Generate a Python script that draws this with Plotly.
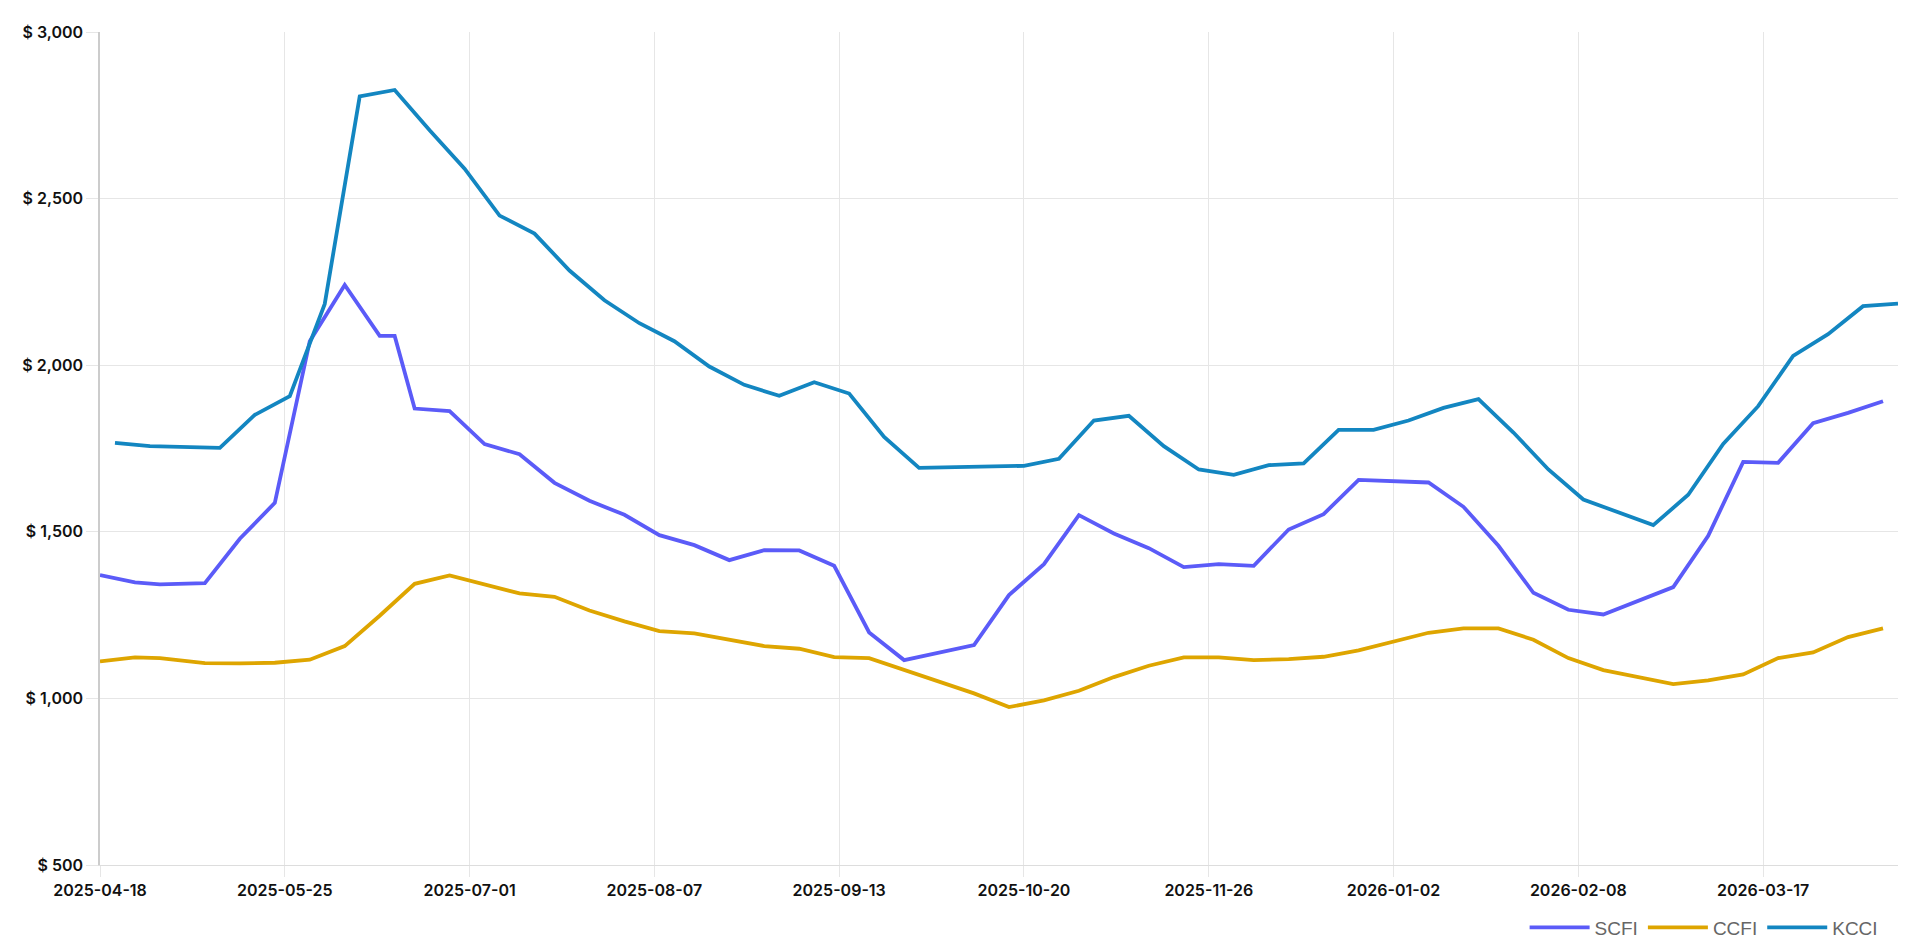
import plotly.graph_objects as go

# ---- data ----
scfi_dates = ["2025-04-18","2025-04-25","2025-04-30","2025-05-09","2025-05-16","2025-05-23","2025-05-30",
              "2025-06-06","2025-06-13","2025-06-16","2025-06-20","2025-06-27","2025-07-04","2025-07-11",
              "2025-07-18","2025-07-25","2025-08-01","2025-08-08","2025-08-15","2025-08-22","2025-08-29",
              "2025-09-05","2025-09-12","2025-09-19","2025-09-26","2025-10-10","2025-10-17","2025-10-24",
              "2025-10-31","2025-11-07","2025-11-14","2025-11-21","2025-11-28","2025-12-05","2025-12-12",
              "2025-12-19","2025-12-26","2026-01-09","2026-01-16","2026-01-23","2026-01-30","2026-02-06",
              "2026-02-13","2026-02-27","2026-03-06","2026-03-13","2026-03-20","2026-03-27","2026-04-03",
              "2026-04-10"]
scfi_values = [1370,1348,1342,1346,1479,1587,2072,
               2241,2088,2088,1870,1862,1763,1733,
               1647,1593,1551,1490,1460,1415,1445,
               1444,1398,1198,1115,1160,1310,1403,
               1550,1495,1451,1394,1403,1398,1507,
               1553,1656,1648,1575,1458,1317,1266,
               1252,1334,1488,1710,1707,1826,1857,
               1892]

ccfi_dates = ["2025-04-18","2025-04-25","2025-04-30","2025-05-09","2025-05-16","2025-05-23","2025-05-30",
              "2025-06-06","2025-06-13","2025-06-20","2025-06-27","2025-07-04","2025-07-11","2025-07-18",
              "2025-07-25","2025-08-01","2025-08-08","2025-08-15","2025-08-22","2025-08-29","2025-09-05",
              "2025-09-12","2025-09-19","2025-09-26","2025-10-10","2025-10-17","2025-10-24","2025-10-31",
              "2025-11-07","2025-11-14","2025-11-21","2025-11-28","2025-12-05","2025-12-12","2025-12-19",
              "2025-12-26","2026-01-02","2026-01-09","2026-01-16","2026-01-23","2026-01-30","2026-02-06",
              "2026-02-13","2026-02-27","2026-03-06","2026-03-13","2026-03-20","2026-03-27","2026-04-03",
              "2026-04-10"]
ccfi_values = [1111,1123,1121,1106,1105,1107,1116,
               1157,1248,1344,1369,1343,1315,1305,
               1264,1231,1202,1195,1175,1157,1149,
               1124,1121,1085,1015,974,994,1023,
               1064,1098,1123,1123,1115,1118,1125,
               1144,1171,1197,1210,1210,1176,1121,
               1085,1043,1054,1072,1121,1138,1184,
               1210]

kcci_dates = ["2025-04-21","2025-04-28","2025-05-12","2025-05-19","2025-05-26","2025-06-02","2025-06-09",
              "2025-06-16","2025-06-23","2025-06-30","2025-07-07","2025-07-14","2025-07-21","2025-07-28",
              "2025-08-04","2025-08-11","2025-08-18","2025-08-25","2025-09-01","2025-09-08","2025-09-15",
              "2025-09-22","2025-09-29","2025-10-20","2025-10-27","2025-11-03","2025-11-10","2025-11-17",
              "2025-11-24","2025-12-01","2025-12-08","2025-12-15","2025-12-22","2025-12-29","2026-01-05",
              "2026-01-12","2026-01-19","2026-01-26","2026-02-02","2026-02-09","2026-02-23","2026-03-02",
              "2026-03-09","2026-03-16","2026-03-23","2026-03-30","2026-04-06","2026-04-13"]
kcci_values = [1767,1757,1752,1851,1907,2184,2807,
               2826,2705,2590,2449,2395,2284,2195,
               2126,2072,1996,1941,1908,1949,1915,
               1785,1692,1698,1719,1834,1848,1757,
               1687,1671,1700,1705,1806,1806,1834,
               1872,1898,1798,1687,1597,1520,1611,
               1764,1877,2028,2093,2177,2185]

x_tick_dates = ["2025-04-18","2025-05-25","2025-07-01","2025-08-07","2025-09-13",
                "2025-10-20","2025-11-26","2026-01-02","2026-02-08","2026-03-17"]
y_ticks = [500, 1000, 1500, 2000, 2500, 3000]
y_tick_labels = ["$\u00a0500", "$\u00a01,000", "$\u00a01,500", "$\u00a02,000", "$\u00a02,500", "$\u00a03,000"]

series = [
    ("SCFI", scfi_dates, scfi_values, "#5B5BF8"),
    ("CCFI", ccfi_dates, ccfi_values, "#DEA500"),
    ("KCCI", kcci_dates, kcci_values, "#1386C1"),
]

fig = go.Figure()
for name, d, v, c in series:
    fig.add_trace(go.Scatter(x=d, y=v, name=name, mode="lines",
                             line=dict(color=c, width=3.8)))

tick_font = dict(family="Inter, Roboto, sans-serif", size=16, color="#111111", weight=600)

fig.update_layout(
    width=1920, height=951,
    margin=dict(l=92, r=30, t=24, b=90),
    paper_bgcolor="white", plot_bgcolor="white",
    showlegend=True,
    legend=dict(orientation="h", x=0.992, xanchor="right", y=-0.075, yanchor="middle",
                font=dict(family="Liberation Sans, Arial, sans-serif", size=19, color="#666666"),
                itemwidth=60, bgcolor="rgba(0,0,0,0)"),
    xaxis=dict(type="date", range=["2025-04-18", "2026-04-13"],
               tickvals=x_tick_dates, tickformat="%Y-%m-%d",
               showgrid=True, gridcolor="#e6e6e6", gridwidth=1,
               ticks="outside", ticklen=11, tickcolor="#e6e6e6",
               showline=True, linecolor="#dddddd", linewidth=1,
               tickfont=tick_font, zeroline=False),
    yaxis=dict(range=[500, 3000], tickvals=y_ticks, ticktext=y_tick_labels,
               showgrid=True, gridcolor="#e6e6e6", gridwidth=1,
               ticks="outside", ticklen=12, tickcolor="#e6e6e6",
               showline=True, linecolor="#cccccc", linewidth=1.5,
               tickfont=tick_font, zeroline=False),
)

fig.write_html("out.html")
